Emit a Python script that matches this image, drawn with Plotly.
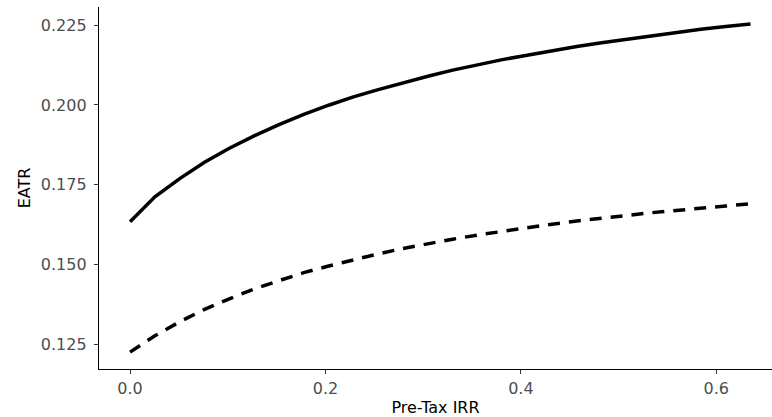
import plotly.graph_objects as go

pre_tax_irr = [0.0, 0.0254, 0.0508, 0.0762, 0.1016, 0.127, 0.1524, 0.1778, 0.2032, 0.2286,
               0.254, 0.2794, 0.3048, 0.3302, 0.3556, 0.381, 0.4064, 0.4318, 0.4572, 0.4826,
               0.508, 0.5334, 0.5588, 0.5842, 0.6096, 0.635]
eatr_solid = [0.1634, 0.1712, 0.1769, 0.1820, 0.1864, 0.1903, 0.1938, 0.1970, 0.1999, 0.2025,
              0.2048, 0.2070, 0.2090, 0.2109, 0.2126, 0.2142, 0.2156, 0.2170, 0.2183, 0.2195,
              0.2206, 0.2217, 0.2227, 0.2237, 0.2246, 0.2254]
eatr_dashed = [0.1225, 0.1276, 0.1320, 0.1359, 0.1392, 0.1423, 0.1449, 0.1474, 0.1495, 0.1515,
               0.1533, 0.1550, 0.1565, 0.1579, 0.1592, 0.1604, 0.1615, 0.1626, 0.1636, 0.1645,
               0.1654, 0.1662, 0.1669, 0.1677, 0.1683, 0.1690]
x_ticks = [0.0, 0.2, 0.4, 0.6]
x_tick_labels = ["0.0", "0.2", "0.4", "0.6"]
y_ticks = [0.125, 0.150, 0.175, 0.200, 0.225]
y_tick_labels = ["0.125", "0.150", "0.175", "0.200", "0.225"]

fig = go.Figure()
fig.add_trace(go.Scatter(x=pre_tax_irr, y=eatr_solid, mode="lines",
                         line=dict(color="black", width=3.5), showlegend=False))
fig.add_trace(go.Scatter(x=pre_tax_irr, y=eatr_dashed, mode="lines",
                         line=dict(color="black", width=3.5, dash="12px,9px"), showlegend=False))

font_family = "DejaVu Sans, Liberation Sans, Arial, sans-serif"
fig.update_layout(
    width=772, height=417,
    margin=dict(l=99, r=0, t=7, b=48, autoexpand=False),
    plot_bgcolor="white", paper_bgcolor="white",
    font=dict(family=font_family, size=16, color="#4d4d4d"),
)
fig.update_xaxes(
    range=[-0.0318, 0.657], tickvals=x_ticks, ticktext=x_tick_labels,
    automargin=False,
    showgrid=False, zeroline=False, showline=True, linecolor="black", linewidth=1.3,
    ticks="outside", ticklen=4, tickcolor="#333333", tickwidth=1,
    ticklabelstandoff=1,
    tickfont=dict(size=16, color="#4d4d4d"),
    title=dict(text="Pre-Tax IRR", font=dict(size=16, color="black"), standoff=5),
)
fig.update_yaxes(
    range=[0.1172, 0.2307], tickvals=y_ticks, ticktext=y_tick_labels,
    automargin=False,
    showgrid=False, zeroline=False, showline=True, linecolor="black", linewidth=1.3,
    ticks="outside", ticklen=4, tickcolor="#333333", tickwidth=1,
    ticklabelstandoff=4,
    tickfont=dict(size=16, color="#4d4d4d"),
    title=dict(text="EATR", font=dict(size=16, color="black"), standoff=6),
)
fig.write_html("out.html",
               config={"displayModeBar": False},
               post_script="document.body.style.margin='0';document.body.style.overflow='hidden';")
